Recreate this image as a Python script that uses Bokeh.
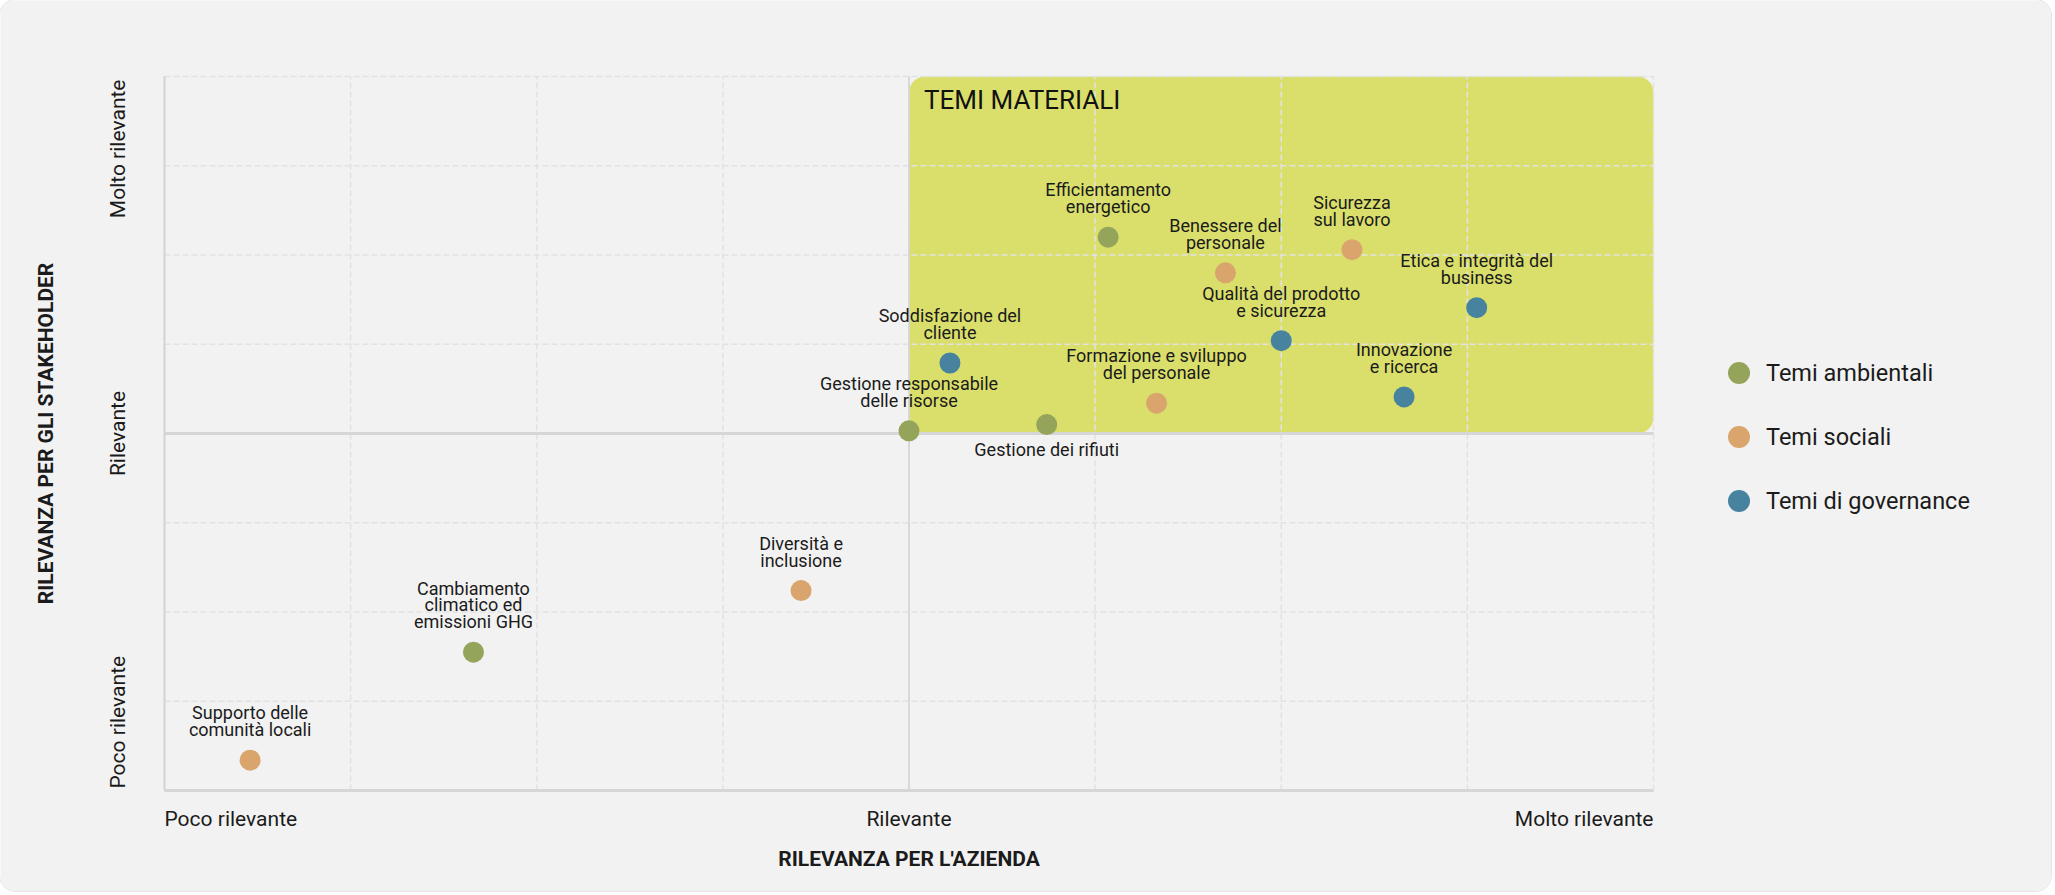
import math
from bokeh.plotting import figure
from bokeh.models import (ColumnDataSource, Label, Legend, LegendItem,
                          BoxAnnotation, Range1d)
from bokeh.core.properties import value
from bokeh.embed import file_html
from bokeh.resources import INLINE

# ---------------- data ----------------
topics = [
    "Supporto delle\ncomunità locali",
    "Cambiamento\nclimatico ed\nemissioni GHG",
    "Diversità e\ninclusione",
    "Gestione responsabile\ndelle risorse",
    "Soddisfazione del\ncliente",
    "Gestione dei rifiuti",
    "Efficientamento\nenergetico",
    "Formazione e sviluppo\ndel personale",
    "Benessere del\npersonale",
    "Qualità del prodotto\ne sicurezza",
    "Sicurezza\nsul lavoro",
    "Innovazione\ne ricerca",
    "Etica e integrità del\nbusiness",
]
company_relevance = [0.46, 1.66, 3.42, 4.00, 4.22, 4.74, 5.07, 5.33, 5.70, 6.00, 6.38, 6.66, 7.05]
stakeholder_relevance = [0.34, 1.55, 2.24, 4.03, 4.79, 4.10, 6.20, 4.34, 5.80, 5.04, 6.06, 4.41, 5.41]
topic_category = ["Temi sociali", "Temi ambientali", "Temi sociali", "Temi ambientali",
                  "Temi di governance", "Temi ambientali", "Temi ambientali", "Temi sociali",
                  "Temi sociali", "Temi di governance", "Temi sociali", "Temi di governance",
                  "Temi di governance"]
label_side = ["above", "above", "above", "above", "above", "below", "above", "above",
              "above", "above", "above", "above", "above"]

categories = ["Temi ambientali", "Temi sociali", "Temi di governance"]
category_colors = ["#94a45a", "#d9a56c", "#47839f"]

tick_labels = ["Poco rilevante", "Rilevante", "Molto rilevante"]
scale_min, scale_mid, scale_max = 0, 4, 8
grid_ticks = [0, 1, 2, 3, 4, 5, 6, 7, 8]
material_title = "TEMI MATERIALI"
x_title = "RILEVANZA PER L'AZIENDA"
y_title = "RILEVANZA PER GLI STAKEHOLDER"

# ---------------- layout (pixels) ----------------
W, H = 2051, 891
PX_LEFT, PX_RIGHT, PY_TOP, PY_BOTTOM = 164, 1653, 76, 790
xs = (PX_RIGHT - PX_LEFT) / (scale_max - scale_min)
ys = (PY_BOTTOM - PY_TOP) / (scale_max - scale_min)
x_range = Range1d(scale_min - PX_LEFT / xs, scale_min + (W - PX_LEFT) / xs)
y_range = Range1d(scale_min - (H - PY_BOTTOM) / ys, scale_max + PY_TOP / ys)

FONT = "Roboto"
TXT = "#1b1b1b"
BG = "#f2f2f2"

# ---------------- figure ----------------
p = figure(width=W, height=H, output_backend="svg", toolbar_location=None,
           x_axis_location=None, y_axis_location=None, title=None,
           x_range=x_range, y_range=y_range, min_border=0,
           background_fill_color=BG, border_fill_color=BG, outline_line_color=None)
p.xgrid.visible = False
p.ygrid.visible = False
p.styles = {"border-radius": "16px", "overflow": "hidden",
            "box-shadow": "0 0 0 1px #e4e4e4"}

# material quadrant
p.add_layout(BoxAnnotation(left=scale_mid, right=scale_max, bottom=scale_mid, top=scale_max,
                           fill_color="#dadf6c", fill_alpha=1.0, line_color=None,
                           border_radius=16, level="image"))

# dashed grid limited to the plotting area
n = len(grid_ticks)
p.segment(x0=grid_ticks, y0=[scale_min] * n, x1=grid_ticks, y1=[scale_max] * n,
          line_color="#e2e2e2", line_width=1.5, line_dash="6 3", level="underlay")
p.segment(x0=[scale_min] * n, y0=grid_ticks, x1=[scale_max] * n, y1=grid_ticks,
          line_color="#e2e2e2", line_width=1.5, line_dash="6 3", level="underlay")

# axis and centre lines
p.segment(x0=[scale_min, scale_mid], y0=[scale_min, scale_min],
          x1=[scale_min, scale_mid], y1=[scale_max, scale_max],
          line_color="#d3d3d3", line_width=[2, 1.5])
p.segment(x0=[scale_min, scale_min], y0=[scale_min, scale_mid],
          x1=[scale_max, scale_max], y1=[scale_min, scale_mid],
          line_color="#d6d6d6", line_width=3)

# topic labels
src_lab = ColumnDataSource(dict(
    x=company_relevance, y=stakeholder_relevance, t=topics,
    yo=[-20 if s == "above" else 35 for s in label_side]))
p.text(x="x", y="y", text="t", y_offset="yo", source=src_lab,
       text_font=value(FONT), text_font_size="18px", text_color=TXT,
       text_align="center", text_baseline="bottom", text_line_height=0.8)

# points per category
items = []
for cat, col in zip(categories, category_colors):
    idx = [i for i, c in enumerate(topic_category) if c == cat]
    src = ColumnDataSource(dict(x=[company_relevance[i] for i in idx],
                                y=[stakeholder_relevance[i] for i in idx]))
    r = p.scatter(x="x", y="y", source=src, size=21, fill_color=col, line_color=None)
    items.append(LegendItem(label=cat, renderers=[r]))

legend = Legend(items=items, location=(1711, 363), orientation="vertical",
                glyph_width=55, glyph_height=55, label_standoff=-6, spacing=9,
                padding=0, margin=0, border_line_color=None, background_fill_alpha=0,
                label_text_font=FONT, label_text_font_size="23.5px", label_text_color=TXT,
                label_text_baseline="middle")
p.add_layout(legend, "center")

# material title
p.add_layout(Label(x=scale_mid, y=scale_max, x_offset=15, y_offset=-23, text=material_title,
                   text_font=FONT, text_font_size="26px", text_color="#111111",
                   text_baseline="alphabetic", text_align="left"))

# x tick labels
for val, lab, al in zip([scale_min, scale_mid, scale_max], tick_labels, ["left", "center", "right"]):
    p.add_layout(Label(x=val, y=scale_min, y_offset=-28, text=lab, text_font=FONT,
                       text_font_size="21px", text_color=TXT, text_align=al,
                       text_baseline="alphabetic"))
# y tick labels (rotated)
for val, lab, al, yo in zip([scale_min, scale_mid, scale_max], tick_labels,
                            ["left", "center", "right"], [2, 0, -3]):
    p.add_layout(Label(x=scale_min, y=val, x_offset=-47, y_offset=yo, text=lab, text_font=FONT,
                       text_font_size="21px", text_color=TXT, text_align=al,
                       text_baseline="alphabetic", angle=math.pi / 2))

# axis titles
p.add_layout(Label(x=scale_mid, y=scale_min, y_offset=-68, text=x_title, text_font=FONT,
                   text_font_size="21px", text_font_style="bold", text_color=TXT,
                   text_align="center", text_baseline="alphabetic"))
p.add_layout(Label(x=scale_min, y=scale_mid, x_offset=-119, text=y_title, text_font=FONT,
                   text_font_size="21px", text_font_style="bold", text_color=TXT,
                   text_align="center", text_baseline="alphabetic", angle=math.pi / 2))

open("out.html", "w").write(file_html(p, INLINE))
